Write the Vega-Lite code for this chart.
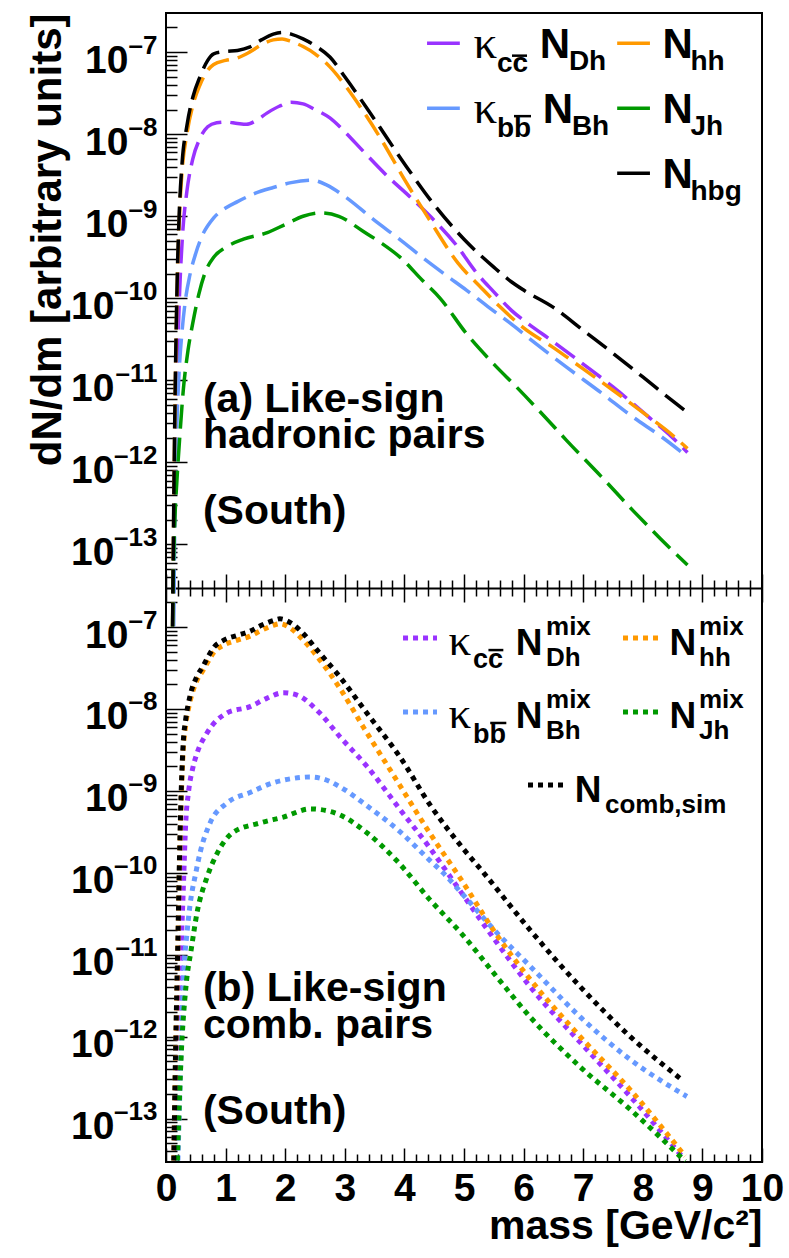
{
  "$schema": "https://vega.github.io/schema/vega-lite/v6.json",
  "autosize": {"type": "none"},
  "padding": {"left": 166, "top": 13, "right": 27, "bottom": 96},
  "background": "white",
  "width": 596,
  "height": 1149,
  "datasets": {
    "curves": [
      {"p":"a","s":"Dh","m":0.12,"v":1e-14},{"p":"a","s":"Dh","m":0.14,"v":1.58e-13},{"p":"a","s":"Dh","m":0.16,"v":2e-12},{"p":"a","s":"Dh","m":0.19,"v":1.58e-11},{"p":"a","s":"Dh","m":0.23,"v":1.26e-10},{"p":"a","s":"Dh","m":0.28,"v":6.31e-10},{"p":"a","s":"Dh","m":0.35,"v":2e-9},{"p":"a","s":"Dh","m":0.45,"v":5.01e-9},{"p":"a","s":"Dh","m":0.57,"v":8.91e-9},{"p":"a","s":"Dh","m":0.7,"v":1.23e-8},{"p":"a","s":"Dh","m":0.85,"v":1.38e-8},{"p":"a","s":"Dh","m":1.0,"v":1.41e-8},{"p":"a","s":"Dh","m":1.2,"v":1.35e-8},{"p":"a","s":"Dh","m":1.35,"v":1.32e-8},{"p":"a","s":"Dh","m":1.5,"v":1.45e-8},{"p":"a","s":"Dh","m":1.7,"v":1.82e-8},{"p":"a","s":"Dh","m":1.9,"v":2.19e-8},{"p":"a","s":"Dh","m":2.1,"v":2.45e-8},{"p":"a","s":"Dh","m":2.3,"v":2.34e-8},{"p":"a","s":"Dh","m":2.5,"v":2.0e-8},{"p":"a","s":"Dh","m":2.75,"v":1.58e-8},{"p":"a","s":"Dh","m":3.0,"v":1.07e-8},{"p":"a","s":"Dh","m":3.3,"v":6.31e-9},{"p":"a","s":"Dh","m":3.7,"v":3.16e-9},{"p":"a","s":"Dh","m":4.15,"v":1.58e-9},{"p":"a","s":"Dh","m":4.5,"v":8.91e-10},{"p":"a","s":"Dh","m":4.88,"v":4.37e-10},{"p":"a","s":"Dh","m":5.2,"v":2.09e-10},{"p":"a","s":"Dh","m":5.5,"v":1.2e-10},{"p":"a","s":"Dh","m":5.8,"v":7.08e-11},{"p":"a","s":"Dh","m":6.06,"v":5.01e-11},{"p":"a","s":"Dh","m":6.5,"v":2.95e-11},{"p":"a","s":"Dh","m":7.0,"v":1.58e-11},{"p":"a","s":"Dh","m":7.5,"v":8.32e-12},{"p":"a","s":"Dh","m":8.12,"v":3.47e-12},{"p":"a","s":"Dh","m":8.5,"v":2.0e-12},{"p":"a","s":"Dh","m":8.75,"v":1.32e-12},
      {"p":"a","s":"Bh","m":0.13,"v":1e-14},{"p":"a","s":"Bh","m":0.15,"v":2.51e-13},{"p":"a","s":"Bh","m":0.18,"v":2.51e-12},{"p":"a","s":"Bh","m":0.22,"v":1.26e-11},{"p":"a","s":"Bh","m":0.27,"v":3.98e-11},{"p":"a","s":"Bh","m":0.33,"v":1e-10},{"p":"a","s":"Bh","m":0.4,"v":1.91e-10},{"p":"a","s":"Bh","m":0.5,"v":3.55e-10},{"p":"a","s":"Bh","m":0.6,"v":5.62e-10},{"p":"a","s":"Bh","m":0.8,"v":9.55e-10},{"p":"a","s":"Bh","m":1.0,"v":1.26e-9},{"p":"a","s":"Bh","m":1.2,"v":1.51e-9},{"p":"a","s":"Bh","m":1.5,"v":1.91e-9},{"p":"a","s":"Bh","m":1.8,"v":2.24e-9},{"p":"a","s":"Bh","m":2.1,"v":2.57e-9},{"p":"a","s":"Bh","m":2.45,"v":2.75e-9},{"p":"a","s":"Bh","m":2.7,"v":2.4e-9},{"p":"a","s":"Bh","m":3.0,"v":1.74e-9},{"p":"a","s":"Bh","m":3.5,"v":8.91e-10},{"p":"a","s":"Bh","m":3.9,"v":5.37e-10},{"p":"a","s":"Bh","m":4.3,"v":3.16e-10},{"p":"a","s":"Bh","m":4.7,"v":1.91e-10},{"p":"a","s":"Bh","m":5.04,"v":1.26e-10},{"p":"a","s":"Bh","m":5.4,"v":7.94e-11},{"p":"a","s":"Bh","m":5.77,"v":5.01e-11},{"p":"a","s":"Bh","m":6.2,"v":2.82e-11},{"p":"a","s":"Bh","m":6.72,"v":1.45e-11},{"p":"a","s":"Bh","m":7.3,"v":7.08e-12},{"p":"a","s":"Bh","m":7.84,"v":3.55e-12},{"p":"a","s":"Bh","m":8.3,"v":2.09e-12},{"p":"a","s":"Bh","m":8.75,"v":1.17e-12},
      {"p":"a","s":"hh","m":0.11,"v":1e-14},{"p":"a","s":"hh","m":0.13,"v":2.51e-13},{"p":"a","s":"hh","m":0.15,"v":3.98e-12},{"p":"a","s":"hh","m":0.17,"v":3.16e-11},{"p":"a","s":"hh","m":0.19,"v":1.58e-10},{"p":"a","s":"hh","m":0.22,"v":7.94e-10},{"p":"a","s":"hh","m":0.27,"v":3.55e-9},{"p":"a","s":"hh","m":0.35,"v":1e-8},{"p":"a","s":"hh","m":0.45,"v":2.24e-8},{"p":"a","s":"hh","m":0.57,"v":3.98e-8},{"p":"a","s":"hh","m":0.7,"v":6.03e-8},{"p":"a","s":"hh","m":0.8,"v":7.08e-8},{"p":"a","s":"hh","m":1.0,"v":7.94e-8},{"p":"a","s":"hh","m":1.2,"v":8.51e-8},{"p":"a","s":"hh","m":1.4,"v":1e-7},{"p":"a","s":"hh","m":1.6,"v":1.23e-7},{"p":"a","s":"hh","m":1.8,"v":1.41e-7},{"p":"a","s":"hh","m":1.95,"v":1.45e-7},{"p":"a","s":"hh","m":2.1,"v":1.35e-7},{"p":"a","s":"hh","m":2.3,"v":1.17e-7},{"p":"a","s":"hh","m":2.5,"v":9.55e-8},{"p":"a","s":"hh","m":2.75,"v":6.61e-8},{"p":"a","s":"hh","m":3.0,"v":3.98e-8},{"p":"a","s":"hh","m":3.3,"v":1.95e-8},{"p":"a","s":"hh","m":3.6,"v":8.91e-9},{"p":"a","s":"hh","m":4.0,"v":2.82e-9},{"p":"a","s":"hh","m":4.4,"v":9.55e-10},{"p":"a","s":"hh","m":4.9,"v":2.69e-10},{"p":"a","s":"hh","m":5.3,"v":1.32e-10},{"p":"a","s":"hh","m":5.6,"v":7.94e-11},{"p":"a","s":"hh","m":6.0,"v":4.37e-11},{"p":"a","s":"hh","m":6.5,"v":2.51e-11},{"p":"a","s":"hh","m":7.0,"v":1.38e-11},{"p":"a","s":"hh","m":7.5,"v":7.59e-12},{"p":"a","s":"hh","m":8.0,"v":4.07e-12},{"p":"a","s":"hh","m":8.5,"v":2.14e-12},{"p":"a","s":"hh","m":8.75,"v":1.48e-12},
      {"p":"a","s":"Jh","m":0.11,"v":1e-14},{"p":"a","s":"Jh","m":0.12,"v":3.16e-14},{"p":"a","s":"Jh","m":0.15,"v":2.14e-13},{"p":"a","s":"Jh","m":0.18,"v":5.5e-13},{"p":"a","s":"Jh","m":0.23,"v":2e-12},{"p":"a","s":"Jh","m":0.29,"v":7.59e-12},{"p":"a","s":"Jh","m":0.37,"v":2.34e-11},{"p":"a","s":"Jh","m":0.45,"v":5.01e-11},{"p":"a","s":"Jh","m":0.55,"v":1.12e-10},{"p":"a","s":"Jh","m":0.65,"v":2e-10},{"p":"a","s":"Jh","m":0.8,"v":3.16e-10},{"p":"a","s":"Jh","m":1.0,"v":4.17e-10},{"p":"a","s":"Jh","m":1.3,"v":5.25e-10},{"p":"a","s":"Jh","m":1.7,"v":6.31e-10},{"p":"a","s":"Jh","m":2.0,"v":7.94e-10},{"p":"a","s":"Jh","m":2.3,"v":1e-9},{"p":"a","s":"Jh","m":2.6,"v":1.1e-9},{"p":"a","s":"Jh","m":2.9,"v":1e-9},{"p":"a","s":"Jh","m":3.3,"v":6.61e-10},{"p":"a","s":"Jh","m":3.6,"v":4.79e-10},{"p":"a","s":"Jh","m":3.93,"v":3.16e-10},{"p":"a","s":"Jh","m":4.3,"v":1.66e-10},{"p":"a","s":"Jh","m":4.6,"v":1e-10},{"p":"a","s":"Jh","m":5.04,"v":3.72e-11},{"p":"a","s":"Jh","m":5.5,"v":1.58e-11},{"p":"a","s":"Jh","m":5.88,"v":8.32e-12},{"p":"a","s":"Jh","m":6.3,"v":3.98e-12},{"p":"a","s":"Jh","m":6.72,"v":1.86e-12},{"p":"a","s":"Jh","m":7.3,"v":6.76e-13},{"p":"a","s":"Jh","m":7.84,"v":2.57e-13},{"p":"a","s":"Jh","m":8.3,"v":1.17e-13},{"p":"a","s":"Jh","m":8.75,"v":5.62e-14},
      {"p":"a","s":"bg","m":0.11,"v":1e-14},{"p":"a","s":"bg","m":0.13,"v":3.16e-13},{"p":"a","s":"bg","m":0.15,"v":5.01e-12},{"p":"a","s":"bg","m":0.17,"v":3.98e-11},{"p":"a","s":"bg","m":0.19,"v":2e-10},{"p":"a","s":"bg","m":0.22,"v":1e-9},{"p":"a","s":"bg","m":0.27,"v":4.47e-9},{"p":"a","s":"bg","m":0.35,"v":1.26e-8},{"p":"a","s":"bg","m":0.45,"v":2.82e-8},{"p":"a","s":"bg","m":0.57,"v":5.01e-8},{"p":"a","s":"bg","m":0.7,"v":7.94e-8},{"p":"a","s":"bg","m":0.8,"v":9.55e-8},{"p":"a","s":"bg","m":1.0,"v":1.02e-7},{"p":"a","s":"bg","m":1.2,"v":1.05e-7},{"p":"a","s":"bg","m":1.4,"v":1.15e-7},{"p":"a","s":"bg","m":1.6,"v":1.41e-7},{"p":"a","s":"bg","m":1.8,"v":1.66e-7},{"p":"a","s":"bg","m":1.95,"v":1.74e-7},{"p":"a","s":"bg","m":2.1,"v":1.66e-7},{"p":"a","s":"bg","m":2.3,"v":1.45e-7},{"p":"a","s":"bg","m":2.5,"v":1.2e-7},{"p":"a","s":"bg","m":2.75,"v":8.71e-8},{"p":"a","s":"bg","m":3.0,"v":5.01e-8},{"p":"a","s":"bg","m":3.5,"v":1.51e-8},{"p":"a","s":"bg","m":4.0,"v":4.37e-9},{"p":"a","s":"bg","m":4.5,"v":1.38e-9},{"p":"a","s":"bg","m":5.0,"v":5.25e-10},{"p":"a","s":"bg","m":5.5,"v":2.4e-10},{"p":"a","s":"bg","m":5.8,"v":1.58e-10},{"p":"a","s":"bg","m":6.0,"v":1.26e-10},{"p":"a","s":"bg","m":6.5,"v":7.76e-11},{"p":"a","s":"bg","m":7.0,"v":4.07e-11},{"p":"a","s":"bg","m":7.5,"v":2.14e-11},{"p":"a","s":"bg","m":8.0,"v":1.1e-11},{"p":"a","s":"bg","m":8.5,"v":5.62e-12},{"p":"a","s":"bg","m":8.75,"v":4.07e-12},
      {"p":"b","s":"Dh","m":0.15,"v":1e-14},{"p":"b","s":"Dh","m":0.2,"v":6.31e-13},{"p":"b","s":"Dh","m":0.25,"v":1e-11},{"p":"b","s":"Dh","m":0.29,"v":6.31e-11},{"p":"b","s":"Dh","m":0.33,"v":3.98e-10},{"p":"b","s":"Dh","m":0.38,"v":1e-9},{"p":"b","s":"Dh","m":0.45,"v":1.91e-9},{"p":"b","s":"Dh","m":0.52,"v":2.88e-9},{"p":"b","s":"Dh","m":0.69,"v":5.13e-9},{"p":"b","s":"Dh","m":1.02,"v":8.91e-9},{"p":"b","s":"Dh","m":1.41,"v":1.07e-8},{"p":"b","s":"Dh","m":1.69,"v":1.35e-8},{"p":"b","s":"Dh","m":1.97,"v":1.58e-8},{"p":"b","s":"Dh","m":2.2,"v":1.48e-8},{"p":"b","s":"Dh","m":2.58,"v":8.91e-9},{"p":"b","s":"Dh","m":2.92,"v":4.57e-9},{"p":"b","s":"Dh","m":3.37,"v":2e-9},{"p":"b","s":"Dh","m":3.93,"v":5.89e-10},{"p":"b","s":"Dh","m":4.43,"v":2e-10},{"p":"b","s":"Dh","m":4.82,"v":7.94e-11},{"p":"b","s":"Dh","m":5.55,"v":1.41e-11},{"p":"b","s":"Dh","m":6.11,"v":4.07e-12},{"p":"b","s":"Dh","m":6.95,"v":8.51e-13},{"p":"b","s":"Dh","m":7.79,"v":1.86e-13},{"p":"b","s":"Dh","m":8.68,"v":3.31e-14},
      {"p":"b","s":"Bh","m":0.18,"v":1e-14},{"p":"b","s":"Bh","m":0.22,"v":1e-13},{"p":"b","s":"Bh","m":0.26,"v":1e-12},{"p":"b","s":"Bh","m":0.3,"v":6.31e-12},{"p":"b","s":"Bh","m":0.35,"v":1.78e-11},{"p":"b","s":"Bh","m":0.4,"v":3.89e-11},{"p":"b","s":"Bh","m":0.5,"v":1e-10},{"p":"b","s":"Bh","m":0.57,"v":1.74e-10},{"p":"b","s":"Bh","m":0.74,"v":4.07e-10},{"p":"b","s":"Bh","m":1.02,"v":7.08e-10},{"p":"b","s":"Bh","m":1.41,"v":9.55e-10},{"p":"b","s":"Bh","m":1.8,"v":1.26e-9},{"p":"b","s":"Bh","m":2.1,"v":1.41e-9},{"p":"b","s":"Bh","m":2.42,"v":1.48e-9},{"p":"b","s":"Bh","m":2.7,"v":1.35e-9},{"p":"b","s":"Bh","m":2.92,"v":1.12e-9},{"p":"b","s":"Bh","m":3.37,"v":6.61e-10},{"p":"b","s":"Bh","m":3.93,"v":3.16e-10},{"p":"b","s":"Bh","m":4.43,"v":1.41e-10},{"p":"b","s":"Bh","m":4.65,"v":1e-10},{"p":"b","s":"Bh","m":5.0,"v":5.25e-11},{"p":"b","s":"Bh","m":5.55,"v":1.86e-11},{"p":"b","s":"Bh","m":6.11,"v":7.24e-12},{"p":"b","s":"Bh","m":6.95,"v":1.74e-12},{"p":"b","s":"Bh","m":7.79,"v":5.25e-13},{"p":"b","s":"Bh","m":8.74,"v":1.86e-13},
      {"p":"b","s":"hh","m":0.12,"v":1e-14},{"p":"b","s":"hh","m":0.16,"v":5.01e-13},{"p":"b","s":"hh","m":0.2,"v":1.26e-11},{"p":"b","s":"hh","m":0.23,"v":1.58e-10},{"p":"b","s":"hh","m":0.26,"v":1e-9},{"p":"b","s":"hh","m":0.29,"v":3.16e-9},{"p":"b","s":"hh","m":0.33,"v":6.31e-9},{"p":"b","s":"hh","m":0.4,"v":1.2e-8},{"p":"b","s":"hh","m":0.52,"v":2.24e-8},{"p":"b","s":"hh","m":0.62,"v":2.95e-8},{"p":"b","s":"hh","m":0.7,"v":3.72e-8},{"p":"b","s":"hh","m":0.8,"v":4.9e-8},{"p":"b","s":"hh","m":0.97,"v":6.03e-8},{"p":"b","s":"hh","m":1.2,"v":6.92e-8},{"p":"b","s":"hh","m":1.41,"v":7.76e-8},{"p":"b","s":"hh","m":1.6,"v":9.12e-8},{"p":"b","s":"hh","m":1.8,"v":1.05e-7},{"p":"b","s":"hh","m":1.91,"v":1.1e-7},{"p":"b","s":"hh","m":2.1,"v":9.55e-8},{"p":"b","s":"hh","m":2.25,"v":7.59e-8},{"p":"b","s":"hh","m":2.58,"v":3.98e-8},{"p":"b","s":"hh","m":2.92,"v":1.78e-8},{"p":"b","s":"hh","m":3.31,"v":6.03e-9},{"p":"b","s":"hh","m":3.87,"v":1.35e-9},{"p":"b","s":"hh","m":4.43,"v":3.02e-10},{"p":"b","s":"hh","m":4.95,"v":8.32e-11},{"p":"b","s":"hh","m":5.55,"v":1.74e-11},{"p":"b","s":"hh","m":6.11,"v":5.01e-12},{"p":"b","s":"hh","m":6.95,"v":1e-12},{"p":"b","s":"hh","m":7.79,"v":2.24e-13},{"p":"b","s":"hh","m":8.71,"v":3.47e-14},
      {"p":"b","s":"Jh","m":0.17,"v":1e-14},{"p":"b","s":"Jh","m":0.25,"v":5.01e-13},{"p":"b","s":"Jh","m":0.34,"v":4.47e-12},{"p":"b","s":"Jh","m":0.42,"v":1.12e-11},{"p":"b","s":"Jh","m":0.52,"v":3.24e-11},{"p":"b","s":"Jh","m":0.69,"v":8.91e-11},{"p":"b","s":"Jh","m":0.86,"v":1.74e-10},{"p":"b","s":"Jh","m":1.12,"v":3.09e-10},{"p":"b","s":"Jh","m":1.58,"v":4.07e-10},{"p":"b","s":"Jh","m":1.97,"v":4.79e-10},{"p":"b","s":"Jh","m":2.42,"v":6.03e-10},{"p":"b","s":"Jh","m":2.8,"v":5.5e-10},{"p":"b","s":"Jh","m":3.37,"v":3.09e-10},{"p":"b","s":"Jh","m":3.87,"v":1.41e-10},{"p":"b","s":"Jh","m":4.43,"v":4.68e-11},{"p":"b","s":"Jh","m":4.98,"v":1.74e-11},{"p":"b","s":"Jh","m":5.55,"v":5.37e-12},{"p":"b","s":"Jh","m":6.11,"v":1.74e-12},{"p":"b","s":"Jh","m":6.95,"v":4.27e-13},{"p":"b","s":"Jh","m":7.79,"v":1.29e-13},{"p":"b","s":"Jh","m":8.71,"v":3.02e-14},
      {"p":"b","s":"bg","m":0.12,"v":1e-14},{"p":"b","s":"bg","m":0.16,"v":6.31e-13},{"p":"b","s":"bg","m":0.2,"v":1.58e-11},{"p":"b","s":"bg","m":0.23,"v":2e-10},{"p":"b","s":"bg","m":0.26,"v":1.26e-9},{"p":"b","s":"bg","m":0.29,"v":3.98e-9},{"p":"b","s":"bg","m":0.33,"v":7.41e-9},{"p":"b","s":"bg","m":0.4,"v":1.41e-8},{"p":"b","s":"bg","m":0.52,"v":2.51e-8},{"p":"b","s":"bg","m":0.62,"v":3.31e-8},{"p":"b","s":"bg","m":0.7,"v":4.27e-8},{"p":"b","s":"bg","m":0.8,"v":5.62e-8},{"p":"b","s":"bg","m":0.97,"v":6.92e-8},{"p":"b","s":"bg","m":1.2,"v":7.94e-8},{"p":"b","s":"bg","m":1.41,"v":8.91e-8},{"p":"b","s":"bg","m":1.6,"v":1.05e-7},{"p":"b","s":"bg","m":1.8,"v":1.2e-7},{"p":"b","s":"bg","m":1.91,"v":1.26e-7},{"p":"b","s":"bg","m":2.1,"v":1.12e-7},{"p":"b","s":"bg","m":2.25,"v":9.12e-8},{"p":"b","s":"bg","m":2.58,"v":4.79e-8},{"p":"b","s":"bg","m":2.92,"v":2.45e-8},{"p":"b","s":"bg","m":3.37,"v":8.91e-9},{"p":"b","s":"bg","m":3.93,"v":2.57e-9},{"p":"b","s":"bg","m":4.43,"v":6.76e-10},{"p":"b","s":"bg","m":4.98,"v":2e-10},{"p":"b","s":"bg","m":5.33,"v":1e-10},{"p":"b","s":"bg","m":6.11,"v":2e-11},{"p":"b","s":"bg","m":6.95,"v":4.07e-12},{"p":"b","s":"bg","m":7.79,"v":1e-12},{"p":"b","s":"bg","m":8.68,"v":2.88e-13}
    ]
  },
  "resolve": {"scale": {"y": "independent"}, "axis": {"x": "independent", "y": "independent"}},
  "layer": [
    {
      "resolve": {"axis": {"x": "independent", "y": "independent"}},
      "layer": [
        {
          "data": {"name": "curves"},
          "transform": [{"filter": "datum.p === 'a'"}],
          "mark": {"type": "line", "strokeWidth": 3.5, "strokeDash": [24, 9], "interpolate": "monotone", "clip": true},
          "encoding": {
            "x": {"field": "m", "type": "quantitative", "scale": {"domain": [0, 10], "nice": false, "zero": false},
              "axis": {"orient": "bottom", "offset": -574, "domain": true, "domainColor": "black", "domainWidth": 2, "values": [0,0.2,0.4,0.6,0.8,1,1.2,1.4,1.6,1.8,2,2.2,2.4,2.6,2.8,3,3.2,3.4,3.6,3.8,4,4.2,4.4,4.6,4.8,5,5.2,5.4,5.6,5.8,6,6.2,6.4,6.6,6.8,7,7.2,7.4,7.6,7.8,8,8.2,8.4,8.6,8.8,9,9.2,9.4,9.6,9.8,10],
                "tickSize": {"condition": {"test": "datum.value % 1 === 0", "value": -14}, "value": -8}, "labels": false, "title": null}},
            "y": {"field": "v", "type": "quantitative", "scale": {"type": "log", "domain": [2.95e-14, 3e-7], "nice": false, "range": [575, 0]},
              "axis": {"orient": "left", "values": [4e-14,5e-14,6e-14,7e-14,8e-14,9e-14,1e-13,2e-13,3e-13,4e-13,5e-13,6e-13,7e-13,8e-13,9e-13,1e-12,2e-12,3e-12,4e-12,5e-12,6e-12,7e-12,8e-12,9e-12,1e-11,2e-11,3e-11,4e-11,5e-11,6e-11,7e-11,8e-11,9e-11,1e-10,2e-10,3e-10,4e-10,5e-10,6e-10,7e-10,8e-10,9e-10,1e-9,2e-9,3e-9,4e-9,5e-9,6e-9,7e-9,8e-9,9e-9,1e-8,2e-8,3e-8,4e-8,5e-8,6e-8,7e-8,8e-8,9e-8,1e-7,2e-7],
                "tickSize": {"condition": {"test": "abs(log(datum.value)/LN10 - round(log(datum.value)/LN10)) < 0.001", "value": -21}, "value": -11},
                "labels": false, "title": "dN/dm [arbitrary units]", "titleX": -106, "titleY": 0, "titleAngle": 270, "titleAlign": "right", "titleBaseline": "alphabetic", "titleFontSize": 42}},
            "color": {"field": "s", "type": "nominal", "scale": {"domain": ["Dh", "Bh", "hh", "Jh", "bg"], "range": ["#9933ff", "#6699ff", "#ff9900", "#009900", "#000000"]}, "legend": null}
          }
        },
        {
          "data": {"values": [{}]},
          "mark": {"type": "text", "text": "(a) Like-sign", "fontSize": 41},
          "encoding": {
            "x": {"datum": 0.62, "type": "quantitative", "axis": null},
            "y": {"datum": 4.07e-12, "type": "quantitative",
              "axis": {"orient": "left", "values": [1e-13,1e-12,1e-11,1e-10,1e-9,1e-8,1e-7], "ticks": false, "labelExpr": "'10'", "labelAlign": "right", "labelBaseline": "alphabetic", "labelOffset": 20,
                "labelPadding": {"condition": {"test": "datum.value > 5e-10", "value": 38}, "value": 52}, "labelFontSize": 39, "labelOverlap": false, "labelFlush": false, "labelBound": false, "title": null}}
          }
        },
        {
          "data": {"values": [{}]},
          "mark": {"type": "text", "text": "hadronic pairs", "fontSize": 41},
          "encoding": {
            "x": {"datum": 0.62, "type": "quantitative", "axis": null},
            "y": {"datum": 1.48e-12, "type": "quantitative",
              "axis": {"orient": "left", "values": [1e-13,1e-12,1e-11,1e-10,1e-9,1e-8,1e-7], "ticks": false, "labelExpr": "'–' + round(-log(datum.value)/LN10)", "labelAlign": "right", "labelBaseline": "alphabetic", "labelOffset": 1,
                "labelPadding": 9, "labelFontSize": 26, "labelOverlap": false, "labelFlush": false, "labelBound": false, "title": null}}
          }
        },
        {"data": {"values": [{}]}, "mark": {"type": "text", "text": "(South)", "fontSize": 41},
          "encoding": {"x": {"datum": 0.62, "type": "quantitative", "axis": null}, "y": {"datum": 1.8e-13, "type": "quantitative", "axis": null}}},
        {"data": {"values": [{}]}, "mark": {"type": "rule", "color": "#9933ff", "strokeWidth": 3.5},
          "encoding": {"x": {"datum": 4.38, "type": "quantitative", "axis": null}, "x2": {"datum": 4.93}, "y": {"datum": 1.288e-7, "type": "quantitative", "axis": null}}},
        {"data": {"values": [{}]}, "mark": {"type": "rule", "color": "#6699ff", "strokeWidth": 3.5},
          "encoding": {"x": {"datum": 4.38, "type": "quantitative", "axis": null}, "x2": {"datum": 4.93}, "y": {"datum": 2.075e-8, "type": "quantitative", "axis": null}}},
        {"data": {"values": [{}]}, "mark": {"type": "rule", "color": "#ff9900", "strokeWidth": 3.5},
          "encoding": {"x": {"datum": 7.57, "type": "quantitative", "axis": null}, "x2": {"datum": 8.12}, "y": {"datum": 1.288e-7, "type": "quantitative", "axis": null}}},
        {"data": {"values": [{}]}, "mark": {"type": "rule", "color": "#009900", "strokeWidth": 3.5},
          "encoding": {"x": {"datum": 7.57, "type": "quantitative", "axis": null}, "x2": {"datum": 8.12}, "y": {"datum": 2.075e-8, "type": "quantitative", "axis": null}}},
        {"data": {"values": [{}]}, "mark": {"type": "rule", "color": "#000000", "strokeWidth": 3.5},
          "encoding": {"x": {"datum": 7.57, "type": "quantitative", "axis": null}, "x2": {"datum": 8.12}, "y": {"datum": 3.34e-9, "type": "quantitative", "axis": null}}},
        {"data": {"values": [{}]}, "mark": {"type": "rule", "color": "#000000", "strokeWidth": 2.5},
          "encoding": {"x": {"datum": 5.805, "type": "quantitative", "axis": null}, "x2": {"datum": 6.057}, "y": {"datum": 9.06e-8, "type": "quantitative", "axis": null}}},
        {"data": {"values": [{}]}, "mark": {"type": "rule", "color": "#000000", "strokeWidth": 2.5},
          "encoding": {"x": {"datum": 5.839, "type": "quantitative", "axis": null}, "x2": {"datum": 6.124}, "y": {"datum": 1.66e-8, "type": "quantitative", "axis": null}}},
        {"data": {"values": [{}]}, "mark": {"type": "text", "text": "κ", "font": "Liberation Serif", "fontWeight": "normal", "fontSize": 47},
          "encoding": {"x": {"datum": 5.16, "type": "quantitative", "axis": null}, "y": {"datum": 8.45e-8, "type": "quantitative", "axis": null}}},
        {"data": {"values": [{}]}, "mark": {"type": "text", "text": "cc", "fontSize": 28},
          "encoding": {"x": {"datum": 5.554, "type": "quantitative", "axis": null}, "y": {"datum": 5.7e-8, "type": "quantitative", "axis": null}}},
        {"data": {"values": [{}]}, "mark": {"type": "text", "text": "N", "fontSize": 42},
          "encoding": {"x": {"datum": 6.27, "type": "quantitative", "axis": null}, "y": {"datum": 8.45e-8, "type": "quantitative", "axis": null}}},
        {"data": {"values": [{}]}, "mark": {"type": "text", "text": "Dh", "fontSize": 28},
          "encoding": {"x": {"datum": 6.76, "type": "quantitative", "axis": null}, "y": {"datum": 6.03e-8, "type": "quantitative", "axis": null}}},
        {"data": {"values": [{}]}, "mark": {"type": "text", "text": "N", "fontSize": 42},
          "encoding": {"x": {"datum": 8.33, "type": "quantitative", "axis": null}, "y": {"datum": 8.45e-8, "type": "quantitative", "axis": null}}},
        {"data": {"values": [{}]}, "mark": {"type": "text", "text": "hh", "fontSize": 28},
          "encoding": {"x": {"datum": 8.8, "type": "quantitative", "axis": null}, "y": {"datum": 6.03e-8, "type": "quantitative", "axis": null}}},
        {"data": {"values": [{}]}, "mark": {"type": "text", "text": "κ", "font": "Liberation Serif", "fontWeight": "normal", "fontSize": 47},
          "encoding": {"x": {"datum": 5.16, "type": "quantitative", "axis": null}, "y": {"datum": 1.361e-8, "type": "quantitative", "axis": null}}},
        {"data": {"values": [{}]}, "mark": {"type": "text", "text": "bb", "fontSize": 28},
          "encoding": {"x": {"datum": 5.554, "type": "quantitative", "axis": null}, "y": {"datum": 9.19e-9, "type": "quantitative", "axis": null}}},
        {"data": {"values": [{}]}, "mark": {"type": "text", "text": "N", "fontSize": 42},
          "encoding": {"x": {"datum": 6.32, "type": "quantitative", "axis": null}, "y": {"datum": 1.361e-8, "type": "quantitative", "axis": null}}},
        {"data": {"values": [{}]}, "mark": {"type": "text", "text": "Bh", "fontSize": 28},
          "encoding": {"x": {"datum": 6.81, "type": "quantitative", "axis": null}, "y": {"datum": 9.73e-9, "type": "quantitative", "axis": null}}},
        {"data": {"values": [{}]}, "mark": {"type": "text", "text": "N", "fontSize": 42},
          "encoding": {"x": {"datum": 8.33, "type": "quantitative", "axis": null}, "y": {"datum": 1.361e-8, "type": "quantitative", "axis": null}}},
        {"data": {"values": [{}]}, "mark": {"type": "text", "text": "Jh", "fontSize": 28},
          "encoding": {"x": {"datum": 8.8, "type": "quantitative", "axis": null}, "y": {"datum": 9.73e-9, "type": "quantitative", "axis": null}}},
        {"data": {"values": [{}]}, "mark": {"type": "text", "text": "N", "fontSize": 42},
          "encoding": {"x": {"datum": 8.33, "type": "quantitative", "axis": null}, "y": {"datum": 2.19e-9, "type": "quantitative", "axis": null}}},
        {"data": {"values": [{}]}, "mark": {"type": "text", "text": "hbg", "fontSize": 28},
          "encoding": {"x": {"datum": 8.8, "type": "quantitative", "axis": null}, "y": {"datum": 1.57e-9, "type": "quantitative", "axis": null}}}
      ]
    },
    {
      "resolve": {"axis": {"x": "independent", "y": "independent"}},
      "layer": [
        {
          "data": {"name": "curves"},
          "transform": [{"filter": "datum.p === 'b'"}],
          "mark": {"type": "line", "strokeWidth": 5, "strokeDash": [5, 5], "interpolate": "monotone", "clip": true},
          "encoding": {
            "x": {"field": "m", "type": "quantitative", "scale": {"domain": [0, 10], "nice": false, "zero": false},
              "axis": {"orient": "bottom", "values": [0,0.2,0.4,0.6,0.8,1,1.2,1.4,1.6,1.8,2,2.2,2.4,2.6,2.8,3,3.2,3.4,3.6,3.8,4,4.2,4.4,4.6,4.8,5,5.2,5.4,5.6,5.8,6,6.2,6.4,6.6,6.8,7,7.2,7.4,7.6,7.8,8,8.2,8.4,8.6,8.8,9,9.2,9.4,9.6,9.8,10],
                "tickSize": {"condition": {"test": "datum.value % 1 === 0", "value": -14}, "value": -8}, "labels": false, "title": null}},
            "y": {"field": "v", "type": "quantitative", "scale": {"type": "log", "domain": [2.95e-14, 3e-7], "nice": false, "range": [1149, 575]},
              "axis": {"orient": "left", "values": [4e-14,5e-14,6e-14,7e-14,8e-14,9e-14,1e-13,2e-13,3e-13,4e-13,5e-13,6e-13,7e-13,8e-13,9e-13,1e-12,2e-12,3e-12,4e-12,5e-12,6e-12,7e-12,8e-12,9e-12,1e-11,2e-11,3e-11,4e-11,5e-11,6e-11,7e-11,8e-11,9e-11,1e-10,2e-10,3e-10,4e-10,5e-10,6e-10,7e-10,8e-10,9e-10,1e-9,2e-9,3e-9,4e-9,5e-9,6e-9,7e-9,8e-9,9e-9,1e-8,2e-8,3e-8,4e-8,5e-8,6e-8,7e-8,8e-8,9e-8,1e-7,2e-7],
                "tickSize": {"condition": {"test": "abs(log(datum.value)/LN10 - round(log(datum.value)/LN10)) < 0.001", "value": -21}, "value": -11},
                "labels": false, "title": null}},
            "color": {"field": "s", "type": "nominal", "scale": {"domain": ["Dh", "Bh", "hh", "Jh", "bg"], "range": ["#9933ff", "#6699ff", "#ff9900", "#009900", "#000000"]}, "legend": null}
          }
        },
        {
          "data": {"values": [{}]},
          "mark": {"type": "text", "text": "(b) Like-sign", "fontSize": 41},
          "encoding": {
            "x": {"datum": 0.62, "type": "quantitative",
              "axis": {"orient": "bottom", "values": [0,1,2,3,4,5,6,7,8,9,10], "ticks": false, "labelFontSize": 39, "labelBaseline": "alphabetic", "labelPadding": 38, "labelFlush": false, "labelOverlap": false, "labelBound": false,
                "title": "mass [GeV/c²]", "titleFontSize": 41, "titleX": 596, "titleY": 76, "titleAlign": "right", "titleBaseline": "alphabetic"}},
            "y": {"datum": 2.75e-12, "type": "quantitative",
              "axis": {"orient": "left", "values": [1e-13,1e-12,1e-11,1e-10,1e-9,1e-8,1e-7], "ticks": false, "labelExpr": "'10'", "labelAlign": "right", "labelBaseline": "alphabetic", "labelOffset": 20,
                "labelPadding": {"condition": {"test": "datum.value > 5e-10", "value": 38}, "value": 52}, "labelFontSize": 39, "labelOverlap": false, "labelFlush": false, "labelBound": false, "title": null}}
          }
        },
        {
          "data": {"values": [{}]},
          "mark": {"type": "text", "text": "comb. pairs", "fontSize": 41},
          "encoding": {
            "x": {"datum": 0.62, "type": "quantitative",
              "axis": {"orient": "top", "offset": -575, "values": [0,0.2,0.4,0.6,0.8,1,1.2,1.4,1.6,1.8,2,2.2,2.4,2.6,2.8,3,3.2,3.4,3.6,3.8,4,4.2,4.4,4.6,4.8,5,5.2,5.4,5.6,5.8,6,6.2,6.4,6.6,6.8,7,7.2,7.4,7.6,7.8,8,8.2,8.4,8.6,8.8,9,9.2,9.4,9.6,9.8,10],
                "tickSize": {"condition": {"test": "datum.value % 1 === 0", "value": -14}, "value": -8}, "labels": false, "title": null}},
            "y": {"datum": 9.7e-13, "type": "quantitative",
              "axis": {"orient": "left", "values": [1e-13,1e-12,1e-11,1e-10,1e-9,1e-8,1e-7], "ticks": false, "labelExpr": "'–' + round(-log(datum.value)/LN10)", "labelAlign": "right", "labelBaseline": "alphabetic", "labelOffset": 1,
                "labelPadding": 9, "labelFontSize": 26, "labelOverlap": false, "labelFlush": false, "labelBound": false, "title": null}}
          }
        },
        {"data": {"values": [{}]}, "mark": {"type": "text", "text": "(South)", "fontSize": 41},
          "encoding": {"x": {"datum": 0.62, "type": "quantitative", "axis": null}, "y": {"datum": 8.7e-14, "type": "quantitative", "axis": null}}},
        {"data": {"values": [{}]}, "mark": {"type": "rule", "color": "#9933ff", "strokeWidth": 5, "strokeDash": [5, 5]},
          "encoding": {"x": {"datum": 3.977, "type": "quantitative", "axis": null}, "x2": {"datum": 4.547}, "y": {"datum": 7.34e-8, "type": "quantitative", "axis": null}}},
        {"data": {"values": [{}]}, "mark": {"type": "rule", "color": "#ff9900", "strokeWidth": 5, "strokeDash": [5, 5]},
          "encoding": {"x": {"datum": 7.668, "type": "quantitative", "axis": null}, "x2": {"datum": 8.289}, "y": {"datum": 7.34e-8, "type": "quantitative", "axis": null}}},
        {"data": {"values": [{}]}, "mark": {"type": "rule", "color": "#6699ff", "strokeWidth": 5, "strokeDash": [5, 5]},
          "encoding": {"x": {"datum": 3.977, "type": "quantitative", "axis": null}, "x2": {"datum": 4.547}, "y": {"datum": 9.19e-9, "type": "quantitative", "axis": null}}},
        {"data": {"values": [{}]}, "mark": {"type": "rule", "color": "#009900", "strokeWidth": 5, "strokeDash": [5, 5]},
          "encoding": {"x": {"datum": 7.668, "type": "quantitative", "axis": null}, "x2": {"datum": 8.289}, "y": {"datum": 9.19e-9, "type": "quantitative", "axis": null}}},
        {"data": {"values": [{}]}, "mark": {"type": "rule", "color": "#000000", "strokeWidth": 5, "strokeDash": [5, 5]},
          "encoding": {"x": {"datum": 6.074, "type": "quantitative", "axis": null}, "x2": {"datum": 6.695}, "y": {"datum": 1.18e-9, "type": "quantitative", "axis": null}}},
        {"data": {"values": [{}]}, "mark": {"type": "rule", "color": "#000000", "strokeWidth": 2.5},
          "encoding": {"x": {"datum": 5.41, "type": "quantitative", "axis": null}, "x2": {"datum": 5.66}, "y": {"datum": 5.24e-8, "type": "quantitative", "axis": null}}},
        {"data": {"values": [{}]}, "mark": {"type": "rule", "color": "#000000", "strokeWidth": 2.5},
          "encoding": {"x": {"datum": 5.44, "type": "quantitative", "axis": null}, "x2": {"datum": 5.71}, "y": {"datum": 6.75e-9, "type": "quantitative", "axis": null}}},
        {"data": {"values": [{}]}, "mark": {"type": "text", "text": "κ", "font": "Liberation Serif", "fontWeight": "normal", "fontSize": 45},
          "encoding": {"x": {"datum": 4.74, "type": "quantitative", "axis": null}, "y": {"datum": 4.56e-8, "type": "quantitative", "axis": null}}},
        {"data": {"values": [{}]}, "mark": {"type": "text", "text": "cc", "fontSize": 27},
          "encoding": {"x": {"datum": 5.151, "type": "quantitative", "axis": null}, "y": {"datum": 3.16e-8, "type": "quantitative", "axis": null}}},
        {"data": {"values": [{}]}, "mark": {"type": "text", "text": "N", "fontSize": 37},
          "encoding": {"x": {"datum": 5.87, "type": "quantitative", "axis": null}, "y": {"datum": 4.56e-8, "type": "quantitative", "axis": null}}},
        {"data": {"values": [{}]}, "mark": {"type": "text", "text": "mix", "fontSize": 26},
          "encoding": {"x": {"datum": 6.376, "type": "quantitative", "axis": null}, "y": {"datum": 7.99e-8, "type": "quantitative", "axis": null}}},
        {"data": {"values": [{}]}, "mark": {"type": "text", "text": "Dh", "fontSize": 26},
          "encoding": {"x": {"datum": 6.376, "type": "quantitative", "axis": null}, "y": {"datum": 3.34e-8, "type": "quantitative", "axis": null}}},
        {"data": {"values": [{}]}, "mark": {"type": "text", "text": "N", "fontSize": 37},
          "encoding": {"x": {"datum": 8.45, "type": "quantitative", "axis": null}, "y": {"datum": 4.56e-8, "type": "quantitative", "axis": null}}},
        {"data": {"values": [{}]}, "mark": {"type": "text", "text": "mix", "fontSize": 26},
          "encoding": {"x": {"datum": 8.943, "type": "quantitative", "axis": null}, "y": {"datum": 7.99e-8, "type": "quantitative", "axis": null}}},
        {"data": {"values": [{}]}, "mark": {"type": "text", "text": "hh", "fontSize": 26},
          "encoding": {"x": {"datum": 8.943, "type": "quantitative", "axis": null}, "y": {"datum": 3.34e-8, "type": "quantitative", "axis": null}}},
        {"data": {"values": [{}]}, "mark": {"type": "text", "text": "κ", "font": "Liberation Serif", "fontWeight": "normal", "fontSize": 45},
          "encoding": {"x": {"datum": 4.74, "type": "quantitative", "axis": null}, "y": {"datum": 5.87e-9, "type": "quantitative", "axis": null}}},
        {"data": {"values": [{}]}, "mark": {"type": "text", "text": "bb", "fontSize": 27},
          "encoding": {"x": {"datum": 5.151, "type": "quantitative", "axis": null}, "y": {"datum": 3.85e-9, "type": "quantitative", "axis": null}}},
        {"data": {"values": [{}]}, "mark": {"type": "text", "text": "N", "fontSize": 37},
          "encoding": {"x": {"datum": 5.87, "type": "quantitative", "axis": null}, "y": {"datum": 5.87e-9, "type": "quantitative", "axis": null}}},
        {"data": {"values": [{}]}, "mark": {"type": "text", "text": "mix", "fontSize": 26},
          "encoding": {"x": {"datum": 6.376, "type": "quantitative", "axis": null}, "y": {"datum": 1.028e-8, "type": "quantitative", "axis": null}}},
        {"data": {"values": [{}]}, "mark": {"type": "text", "text": "Bh", "fontSize": 26},
          "encoding": {"x": {"datum": 6.376, "type": "quantitative", "axis": null}, "y": {"datum": 4.31e-9, "type": "quantitative", "axis": null}}},
        {"data": {"values": [{}]}, "mark": {"type": "text", "text": "N", "fontSize": 37},
          "encoding": {"x": {"datum": 8.45, "type": "quantitative", "axis": null}, "y": {"datum": 5.87e-9, "type": "quantitative", "axis": null}}},
        {"data": {"values": [{}]}, "mark": {"type": "text", "text": "mix", "fontSize": 26},
          "encoding": {"x": {"datum": 8.943, "type": "quantitative", "axis": null}, "y": {"datum": 1.028e-8, "type": "quantitative", "axis": null}}},
        {"data": {"values": [{}]}, "mark": {"type": "text", "text": "Jh", "fontSize": 26},
          "encoding": {"x": {"datum": 8.943, "type": "quantitative", "axis": null}, "y": {"datum": 4.31e-9, "type": "quantitative", "axis": null}}},
        {"data": {"values": [{}]}, "mark": {"type": "text", "text": "N", "fontSize": 37},
          "encoding": {"x": {"datum": 6.86, "type": "quantitative", "axis": null}, "y": {"datum": 7.34e-10, "type": "quantitative", "axis": null}}},
        {"data": {"values": [{}]}, "mark": {"type": "text", "text": "comb,sim", "fontSize": 26},
          "encoding": {"x": {"datum": 7.366, "type": "quantitative", "axis": null}, "y": {"datum": 5.4e-10, "type": "quantitative", "axis": null}}}
      ]
    }
  ],
  "config": {
    "font": "Liberation Sans",
    "view": {"stroke": "black", "strokeWidth": 2},
    "axis": {"grid": false, "domain": false, "tickColor": "black", "tickWidth": 1.5, "labelColor": "black", "titleColor": "black", "labelFont": "Liberation Sans", "titleFont": "Liberation Sans", "labelFontWeight": "bold", "titleFontWeight": "bold"},
    "text": {"font": "Liberation Sans", "fontWeight": "bold", "align": "left", "baseline": "alphabetic", "color": "black"}
  }
}
